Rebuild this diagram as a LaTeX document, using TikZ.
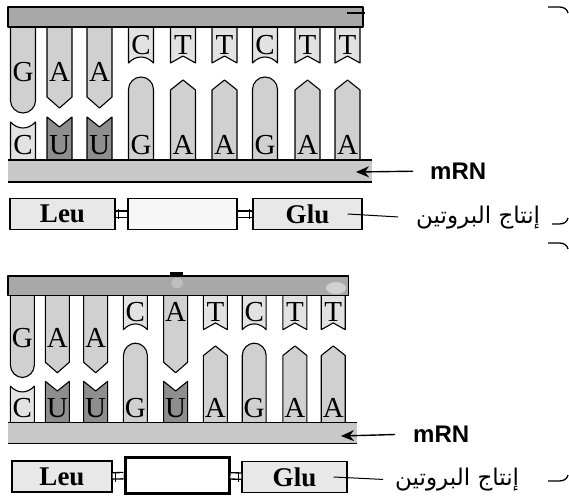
\documentclass[tikz,border=0pt]{standalone}
\usepackage{fontspec}
\setmainfont{Liberation Serif}
\newfontfamily\labelfont{Liberation Sans}
\newfontfamily\arabicfont[Script=Arabic]{DejaVu Sans}
\TeXXeTstate=1
\usetikzlibrary{arrows.meta}
\definecolor{dnagray}{HTML}{A8A8A8}
\definecolor{rnagray}{HTML}{C8C8C8}
\definecolor{tabgray}{HTML}{D0D0D0}
\definecolor{tablight}{HTML}{E2E2E2}
\definecolor{ugray}{HTML}{8E8E8E}
\definecolor{boxgray}{HTML}{E8E8E8}
\tikzset{tab/.style={draw=black, line width=1.1pt, line join=round},
  nuc/.style={inner sep=0pt, font=\fontsize{29}{29}\selectfont}}

% template strand bases, hanging from the top bar
\newcommand\dnaG[2]{\draw[tab, fill=tabgray] (#1-12.5,24) [rounded corners=12.5pt] -- (#1-12.5,113) -- (#1+12.5,113) [sharp corners] -- (#1+12.5,24);
  \node[nuc] (d#2) at (#1,72) {G};}
\newcommand\dnaA[2]{\draw[tab, fill=tabgray] (#1-12.5,24) -- (#1-12.5,97) -- (#1,108) -- (#1+12.5,97) -- (#1+12.5,24);
  \node[nuc] (d#2) at (#1,72) {A};}
% same A, letter set high (inserted base)
\newcommand\dnaAh[2]{\draw[tab, fill=tabgray] (#1-12.5,24) -- (#1-12.5,97) -- (#1,108) -- (#1+12.5,97) -- (#1+12.5,24);
  \node[nuc] (d#2) at (#1,45) {A};}
\newcommand\dnaC[2]{\draw[tab, fill=tablight] (#1-12.5,24) -- (#1-12.5,63) .. controls (#1-5,55) and (#1+5,55) .. (#1+12.5,63) -- (#1+12.5,24);
  \node[nuc] (d#2) at (#1,45) {C};}
\newcommand\dnaT[2]{\draw[tab, fill=tablight] (#1-12.5,24) -- (#1-12.5,63) -- (#1,56) -- (#1+12.5,63) -- (#1+12.5,24);
  \node[nuc] (d#2) at (#1,45) {T};}
% mRNA bases, standing on the lower bar
\newcommand\rnaC[2]{\draw[tab, fill=tablight] (#1-12.5,163) -- (#1-12.5,122) .. controls (#1-5,130) and (#1+5,130) .. (#1+12.5,122) -- (#1+12.5,163);
  \node[nuc] (r#2) at (#1,145) {C};}
\newcommand\rnaU[2]{\draw[tab, fill=ugray] (#1-12.5,163) -- (#1-12.5,117) -- (#1,127) -- (#1+12.5,117) -- (#1+12.5,163);
  \node[nuc] (r#2) at (#1,145) {U};}
\newcommand\rnaG[2]{\draw[tab, fill=tabgray] (#1-12.5,163) [rounded corners=12.5pt] -- (#1-12.5,77) -- (#1+12.5,77) [sharp corners] -- (#1+12.5,163);
  \node[nuc] (r#2) at (#1,145) {G};}
\newcommand\rnaA[2]{\draw[tab, fill=tabgray] (#1-12.5,163) -- (#1-12.5,90) -- (#1,80) -- (#1+12.5,90) -- (#1+12.5,163);
  \node[nuc] (r#2) at (#1,145) {A};}

\newcommand\duplex[1]{%
  \foreach \x/\d/\r [count=\i] in {#1} {%
    \csname dna\d\endcsname{\x}{\i}
    \csname rna\r\endcsname{\x}{\i}
  }
  \draw[tab, fill=dnagray] (8,7) rectangle (363,27);
  \fill[rnagray] (8,160) rectangle (372,182);
  \draw[tab] (8,160) -- (372,160) (8,182) -- (372,182);
}

\begin{document}
\begin{tikzpicture}[x=1pt, y=-1pt,
    pbox/.style={draw=black, line width=1.1pt, fill=boxgray, inner sep=0pt,
      minimum width=105pt, minimum height=31pt, font=\fontsize{27}{27}\selectfont\bfseries},
    bond/.style={double, double distance=5pt, line width=1.3pt},
    ptr/.style={-{Stealth[length=13pt, width=11pt]}, line width=1.4pt},
    lead/.style={line width=1pt},
    mlab/.style={inner sep=0pt, anchor=west, font=\labelfont\bfseries\fontsize{24}{24}\selectfont},
    alab/.style={inner sep=0pt, anchor=west, font=\arabicfont\fontsize{23}{23}\selectfont}]
  \useasboundingbox (0,0) rectangle (569,500);
  \fill[white] (0,0) rectangle (569,500);

  % normal gene
  \duplex{23/G/C, 59.5/A/U, 99.5/A/U, 141/C/G, 183/T/A, 224.5/T/A, 265/C/G, 307.5/T/A, 347.5/T/A}
  \draw[line width=1.2pt] (347,13) -- (365,13);

  \coordinate (mtipA) at (356,172);
  \node[mlab] (mrnaA) at (430,171) {mRN};
  \draw[ptr, shorten <=17pt] (mrnaA.west) -- (mtipA);

  \node[pbox] (leuA) at (62.5,214) {Leu};
  \node[pbox, fill=black!3, minimum width=109pt] (midA) at (182.5,214) {};
  \node[pbox, minimum width=109pt] (gluA) at (307.5,214) {Glu};
  \draw[bond] (leuA) -- (midA);
  \draw[bond] (midA) -- (gluA);
  \draw[lead] ([xshift=3pt]leuA.east) ++(0,-5) -- ++(0,10);
  \draw[lead] ([xshift=-3pt]gluA.west) ++(0,-5) -- ++(0,10);
  \node[alab] (protA) at (416,218) {\beginR إنتاج البروتين\endR};
  \draw[lead, shorten >=18pt] ([xshift=-15pt]gluA.east) -- (protA.west);

  % mutated gene, drawn a little smaller
  \begin{scope}[shift={(8,276)}, scale=0.958, shift={(-8,-7)}, name prefix=lo-]
    \duplex{23/G/C, 59.5/A/U, 99.5/A/U, 141/C/G, 183/Ah/U, 224.5/T/A, 265/C/G, 307.5/T/A, 347.5/T/A}
  \end{scope}
  \fill[black] (170,272) rectangle (183,277);
  \fill[black!25] (177,283) ellipse [x radius=6, y radius=5];
  \fill[black!18] (336,288) ellipse [x radius=10, y radius=6];

  \coordinate (mtipB) at (341,436);
  \node[mlab] (mrnaB) at (413,434) {mRN};
  \draw[ptr, shorten <=18pt] (mrnaB.west) -- (mtipB);

  \node[pbox, minimum width=100pt] (leuB) at (62,476.5) {Leu};
  \node[pbox, fill=white, line width=3pt, minimum width=104pt, minimum height=36pt] (midB) at (177,475) {};
  \node[pbox] (gluB) at (294.5,477) {Glu};
  \draw[bond] (leuB) -- (midB);
  \draw[bond] (midB) -- (gluB);
  \draw[lead] ([xshift=3pt]leuB.east) ++(0,-5) -- ++(0,10);
  \draw[lead] ([xshift=-3pt]gluB.west) ++(0,-5) -- ++(0,10);
  \node[alab] (protB) at (395,480) {\beginR إنتاج البروتين\endR};
  \draw[lead, shorten >=12pt] ([xshift=-14pt]gluB.east) -- (protB.west);

  % brace ends cut by the right margin
  \draw[line width=1.3pt] (548,7) -- (559,7) .. controls (564,7) and (567,9) .. (568,13);
  \draw[line width=1.3pt] (552,224) -- (559,224) .. controls (564,224) and (567,222) .. (568,218);
  \draw[line width=1.3pt] (548,243) -- (559,243) .. controls (564,243) and (567,245) .. (568,249);
  \draw[line width=1.3pt] (548,481) -- (559,481) .. controls (564,481) and (567,479) .. (568,475);
\end{tikzpicture}
\end{document}
